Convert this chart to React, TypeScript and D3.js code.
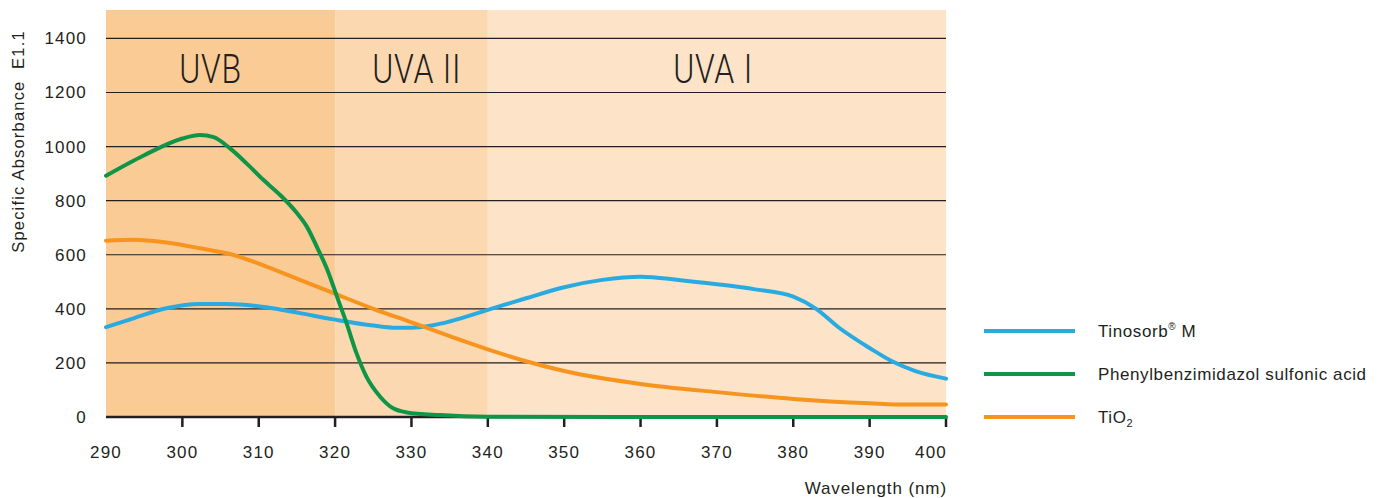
import React from "react";
import * as d3 from "d3";

// ---- data ----
const xTicks = [290, 300, 310, 320, 330, 340, 350, 360, 370, 380, 390, 400];
const yTicks = [0, 200, 400, 600, 800, 1000, 1200, 1400];

const bandNames = ["UVB", "UVA II", "UVA I"];
const bandEdges = [290, 320, 340, 400];
const bandLabelAt = [303.7, 330.7, 369.5];

const tinosorb: [number, number][] = [
  [290, 332], [293.6, 365], [297.9, 402], [302.3, 418], [305.8, 418],
  [311, 406], [315.4, 384], [319.8, 361], [325, 338], [328, 330],
  [330, 330], [333, 340], [335, 353], [340, 396], [345, 439], [350, 480],
  [355, 507], [360, 519], [365, 507], [370, 491], [375, 472], [380, 445],
  [383, 400], [386, 330], [390, 255], [393, 205], [396, 170], [400, 142],
];

const phenyl: [number, number][] = [
  [290, 892], [295, 968], [300, 1030], [302.3, 1043], [304.1, 1035],
  [306.2, 994], [308.4, 938], [310.6, 877], [312.8, 821], [315, 754],
  [316.3, 704], [317.6, 630], [318.9, 550], [320.4, 433], [321.5, 347],
  [322.8, 236], [324.1, 149], [325.9, 75], [327.6, 32], [329.4, 17],
  [333.7, 7], [340, 1], [370, 0], [400, 0],
];

const tio2: [number, number][] = [
  [290, 652], [293.6, 655], [297.9, 645], [302.3, 624], [306.7, 599],
  [311, 556], [315.4, 507], [319.8, 458], [325, 400], [330, 350],
  [335, 299], [340, 250], [345, 206], [350, 170], [360, 122],
  [370, 92], [380, 67], [390, 51], [395, 46], [400, 46],
];

const W = 1394;
const H = 498;
const margin = { top: 10, left: 106, right: 448, bottom: 81 };
const ink = "#231f20";
const font = "'Liberation Sans', Arial, sans-serif";
const bandFill = ["#fbcb96", "#fcd8b0", "#fde3c7"];
const lineColor = { tinosorb: "#29abe2", phenyl: "#0f9548", tio2: "#f7941d" };

export default function App() {
  const x = d3
    .scaleLinear()
    .domain([290, 400])
    .range([margin.left, W - margin.right]);
  const y = d3
    .scaleLinear()
    .domain([0, 1505])
    .range([H - margin.bottom, margin.top]);

  const line = d3
    .line<[number, number]>()
    .x(d => x(d[0]))
    .y(d => y(d[1]))
    .curve(d3.curveMonotoneX);

  const y0 = y(0);

  const legend = [
    { key: "tinosorb", color: lineColor.tinosorb },
    { key: "phenyl", color: lineColor.phenyl },
    { key: "tio2", color: lineColor.tio2 },
  ];

  return (
    <svg
      width={W}
      height={H}
      style={{ position: "absolute", left: 0, top: 0, fontFamily: font }}
    >
      {/* UV bands */}
      {bandNames.map((name, i) => (
        <rect
          key={name}
          x={x(bandEdges[i])}
          y={margin.top}
          width={x(bandEdges[i + 1]) - x(bandEdges[i])}
          height={y0 - margin.top}
          fill={bandFill[i]}
        />
      ))}

      {/* grid */}
      {yTicks.filter(t => t > 0).map(t => (
        <line
          key={t}
          x1={x(290)}
          x2={x(400)}
          y1={y(t)}
          y2={y(t)}
          stroke={ink}
          strokeWidth={1.2}
        />
      ))}

      {/* band labels */}
      {bandNames.map((name, i) => (
        <text
          key={name}
          transform={`translate(${x(bandLabelAt[i])},${y(1235)}) scale(0.78,1)`}
          textAnchor="middle"
          fontSize={41}
          fontWeight={300}
          fill={ink}
          style={{ fontFamily: "Roboto, 'Liberation Sans', sans-serif", letterSpacing: "1px" }}
        >
          {name}
        </text>
      ))}

      {/* y labels */}
      {yTicks.map(t => (
        <text
          key={t}
          x={87}
          y={y(t)}
          dy="0.35em"
          textAnchor="end"
          fontSize={17}
          fill={ink}
          style={{ letterSpacing: "1.2px" }}
        >
          {t}
        </text>
      ))}

      <text
        transform={`translate(24,${(margin.top + y0) / 2 - 72}) rotate(-90)`}
        textAnchor="middle"
        fontSize={16.5}
        fill={ink}
        style={{ letterSpacing: "1.2px", whiteSpace: "pre" }}
      >
        {"Specific Absorbance  E1.1"}
      </text>

      {/* x axis */}
      <line x1={x(290)} x2={x(400) + 1} y1={y0} y2={y0} stroke={ink} strokeWidth={2.5} />
      {xTicks.filter(t => t > 290).map(t => (
        <line key={t} x1={x(t)} x2={x(t)} y1={y0} y2={y0 + 10} stroke={ink} strokeWidth={2.5} />
      ))}
      {xTicks.map((t, i) => (
        <text
          key={t}
          x={i === xTicks.length - 1 ? x(t) + 1 : x(t)}
          y={458}
          textAnchor={i === xTicks.length - 1 ? "end" : "middle"}
          fontSize={17}
          fill={ink}
          style={{ letterSpacing: "1.2px" }}
        >
          {t}
        </text>
      ))}
      <text
        x={x(400) + 1}
        y={494}
        textAnchor="end"
        fontSize={17}
        fill={ink}
        style={{ letterSpacing: "0.9px" }}
      >
        Wavelength (nm)
      </text>

      {/* curves */}
      <path d={line(tinosorb) ?? ""} fill="none" stroke={lineColor.tinosorb} strokeWidth={4} strokeLinecap="round" />
      <path d={line(tio2) ?? ""} fill="none" stroke={lineColor.tio2} strokeWidth={4} strokeLinecap="round" />
      <path d={line(phenyl) ?? ""} fill="none" stroke={lineColor.phenyl} strokeWidth={4} strokeLinecap="round" />

      {/* legend */}
      {legend.map((l, i) => {
        const ly = 331 + i * 43;
        return (
          <g key={l.key}>
            <line x1={984} x2={1075} y1={ly} y2={ly} stroke={l.color} strokeWidth={4} />
            <text x={1098} y={ly} dy="0.35em" fontSize={17} fill={ink} style={{ letterSpacing: "0.6px" }}>
              {l.key === "tinosorb" && (
                <>
                  Tinosorb
                  <tspan fontSize={10} dy={-7}>®</tspan>
                  <tspan dy={7}> M</tspan>
                </>
              )}
              {l.key === "phenyl" && "Phenylbenzimidazol sulfonic acid"}
              {l.key === "tio2" && (
                <>
                  TiO
                  <tspan fontSize={11} dy={4}>2</tspan>
                </>
              )}
            </text>
          </g>
        );
      })}
    </svg>
  );
}
